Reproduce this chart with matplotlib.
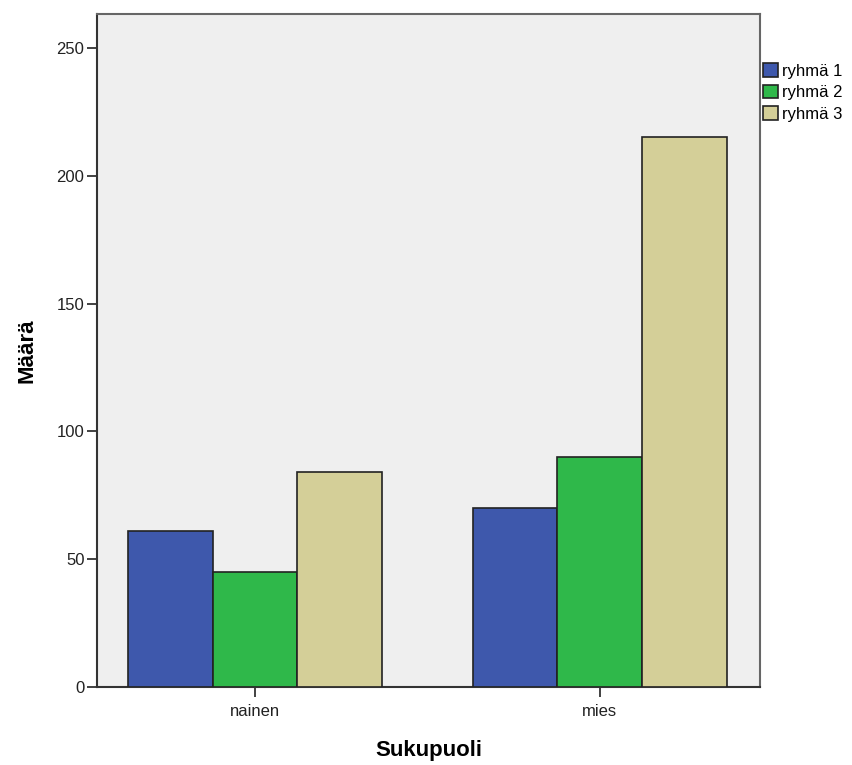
import numpy as np
import matplotlib
matplotlib.use('Agg')
import matplotlib.pyplot as plt

plt.rcParams['font.family'] = ['Liberation Sans', 'DejaVu Sans']

categories = ['nainen', 'mies']
groups = ['ryhmä 1', 'ryhmä 2', 'ryhmä 3']
values = [
    [61, 70],    # ryhmä 1
    [45, 90],    # ryhmä 2
    [84, 215],   # ryhmä 3
]
colors = ['#3e58ac', '#2fb84a', '#d4cf98']

fig = plt.figure(figsize=(8.52, 7.65), dpi=100)
ax = fig.add_axes([0.1138, 0.1020, 0.7782, 0.8797])
ax.set_facecolor('#efefef')

x = np.arange(len(categories))
w = 0.246
for i, g in enumerate(groups):
    ax.bar(x + (i - 1) * w, values[i], w, color=colors[i], edgecolor='#222222',
           linewidth=1.2, label=g, zorder=3)

ax.set_xlim(-0.458, 1.464)
ax.set_ylim(0, 263.3)
ax.set_yticks([0, 50, 100, 150, 200, 250])
ax.set_xticks(x)
ax.set_xticklabels(categories)
ax.tick_params(labelsize=12, length=7, width=1.3, color='#333333', pad=2,
               labelcolor='#222222')
ax.tick_params(axis='x', pad=5.5)

for s in ['left', 'bottom']:
    ax.spines[s].set_color('#333333')
    ax.spines[s].set_linewidth(1.5)
for s in ['top', 'right']:
    ax.spines[s].set_color('#666666')
    ax.spines[s].set_linewidth(1.5)

ax.set_xlabel('Sukupuoli', fontsize=16, fontweight='bold', labelpad=15)
ax.set_ylabel('Määrä', fontsize=16, fontweight='bold', labelpad=14)

ax.legend(loc='upper left', bbox_to_anchor=(1.004, 0.927), frameon=False,
          fontsize=12, handlelength=0.9, handleheight=0.9,
          handletextpad=0.25, labelspacing=0.35, borderaxespad=0,
          borderpad=0)

fig.savefig('out.png', dpi=100)
